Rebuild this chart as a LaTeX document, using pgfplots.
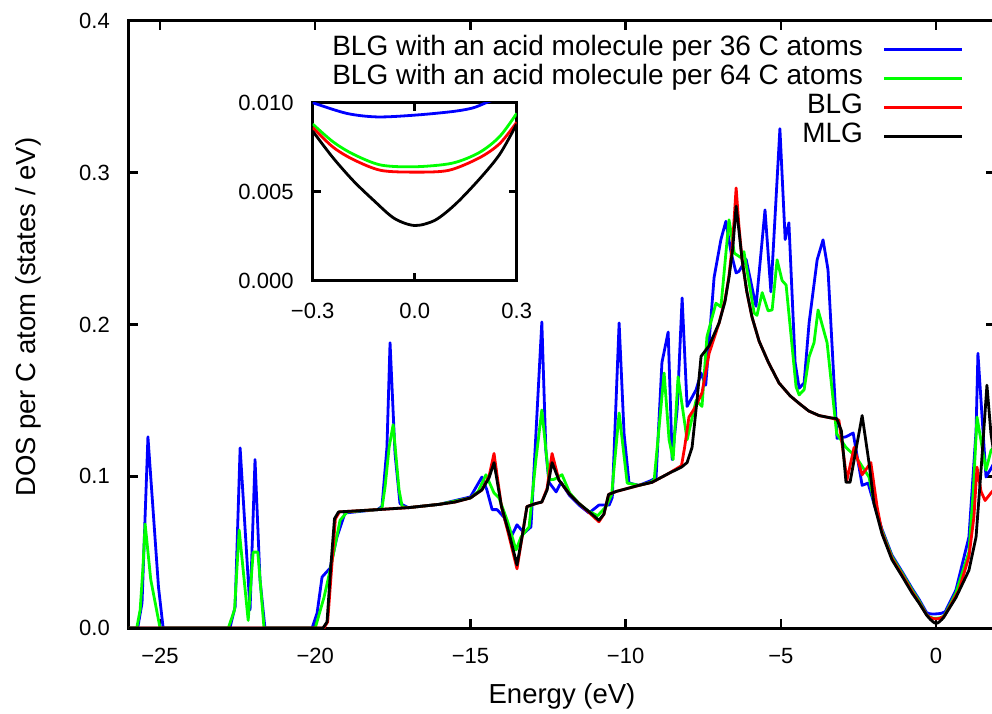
\documentclass[border=0pt]{standalone}
\usepackage{pgfplots}
\pgfplotsset{compat=1.18}
\usepackage{pgfplotstable}
\usepackage{fontspec}
\setmainfont{Liberation Sans}

\pgfplotstableread{
x y
-26 0
-19.75 0
-19.62 0.004
-19.5 0.04
-19.38 0.072
-19.25 0.0765
-18 0.078
-17 0.0793
-16 0.0815
-15.5 0.083
-15 0.0857
-14.63 0.091
-14.4 0.099
-14.24 0.109
-14.0 0.080
-13.75 0.062
-13.5 0.0415
-13.32 0.062
-13.18 0.080
-12.9 0.082
-12.7 0.083
-12.53 0.091
-12.37 0.109
-12.15 0.0975
-11.8 0.088
-11.5 0.082
-11.2 0.077
-10.86 0.071
-10.7 0.075
-10.55 0.088
-10.3 0.090
-9.57 0.094
-9.15 0.096
-8.6 0.102
-8.2 0.106
-8.02 0.109
-7.86 0.119
-7.7 0.150
-7.57 0.179
-7.31 0.186
-6.99 0.201
-6.8 0.215
-6.67 0.231
-6.55 0.250
-6.44 0.278
-6.35 0.262
-6.25 0.243
-6.1 0.222
-5.93 0.205
-5.7 0.189
-5.4 0.175
-5.06 0.1615
-4.7 0.153
-4.41 0.148
-4.1 0.143
-3.77 0.140
-3.4 0.1385
-3.2 0.138
-3.05 0.130
-2.9 0.096
-2.77 0.096
-2.38 0.140
-2.16 0.109
-2.0 0.082
-1.74 0.062
-1.42 0.045
-1.09 0.034
-0.77 0.023
-0.55 0.0165
-0.3 0.0084
-0.24 0.0069
-0.18 0.0056
-0.12 0.0045
-0.06 0.0035
0 0.0031
0.06 0.0034
0.12 0.0043
0.19 0.0057
0.25 0.0071
0.3 0.0088
0.64 0.020
1.06 0.038
1.29 0.060
1.45 0.104
1.64 0.160
1.77 0.128
1.9 0.110
}\mlg

\pgfplotstableread{
x y
-26 0
-19.72 0
-19.6 0.004
-19.47 0.04
-19.35 0.072
-19.22 0.0765
-18 0.078
-17 0.0793
-16 0.0815
-15.5 0.083
-15 0.0857
-14.63 0.091
-14.4 0.100
-14.24 0.115
-14.0 0.080
-13.75 0.060
-13.5 0.039
-13.32 0.062
-13.18 0.080
-12.9 0.082
-12.7 0.083
-12.53 0.092
-12.37 0.115
-12.15 0.0975
-11.8 0.088
-11.5 0.082
-11.2 0.0765
-10.86 0.070
-10.7 0.075
-10.55 0.088
-10.3 0.090
-9.57 0.094
-9.15 0.096
-8.6 0.102
-8.2 0.107
-8.1 0.119
-7.96 0.139
-7.74 0.146
-7.54 0.155
-7.31 0.181
-6.99 0.201
-6.8 0.216
-6.67 0.232
-6.55 0.255
-6.44 0.290
-6.35 0.265
-6.25 0.243
-6.1 0.222
-5.93 0.205
-5.7 0.189
-5.4 0.175
-5.06 0.1615
-4.7 0.153
-4.41 0.148
-4.1 0.143
-3.77 0.140
-3.4 0.1385
-3.13 0.137
-2.87 0.0975
-2.64 0.119
-2.38 0.101
-2.1 0.109
-1.9 0.080
-1.74 0.063
-1.42 0.046
-1.09 0.035
-0.77 0.024
-0.55 0.017
-0.3 0.0086
-0.24 0.0075
-0.18 0.0068
-0.1 0.0062
0 0.0061
0.1 0.0062
0.19 0.0069
0.25 0.0077
0.3 0.0089
0.74 0.025
1.06 0.047
1.22 0.073
1.32 0.106
1.45 0.090
1.58 0.084
1.77 0.089
1.9 0.092
}\blg

\pgfplotstableread{
x y
-26 0
-25.75 0
-25.64 0.012
-25.55 0.040
-25.48 0.0685
-25.3 0.032
-25.0 0
-22.8 0
-22.6 0.012
-22.45 0.0646
-22.16 0.005
-22.0 0.050
-21.85 0.050
-21.65 0
-20.0 0
-19.72 0.020
-19.52 0.038
-19.2 0.071
-18.97 0.0765
-18 0.078
-17.85 0.079
-17.75 0.093
-17.62 0.119
-17.49 0.134
-17.3 0.091
-17.2 0.080
-17 0.0793
-16 0.0815
-15 0.0857
-14.75 0.090
-14.5 0.101
-14.24 0.089
-14.08 0.0857
-13.8 0.070
-13.53 0.0514
-13.37 0.060
-13.11 0.0666
-12.89 0.111
-12.7 0.1437
-12.47 0.0976
-12.3 0.098
-12.05 0.101
-11.8 0.089
-11.5 0.082
-11.2 0.077
-10.9 0.074
-10.63 0.080
-10.45 0.088
-10.21 0.1417
-9.95 0.0955
-9.57 0.094
-9.2 0.096
-9.08 0.0976
-8.76 0.168
-8.6 0.124
-8.47 0.111
-8.31 0.1655
-8.02 0.124
-7.73 0.150
-7.54 0.146
-7.38 0.192
-7.09 0.214
-6.93 0.2116
-6.67 0.269
-6.5 0.247
-6.28 0.244
-6.19 0.248
-5.86 0.2076
-5.77 0.206
-5.6 0.221
-5.41 0.209
-5.28 0.2096
-5.12 0.2426
-4.96 0.229
-4.83 0.226
-4.51 0.159
-4.41 0.1536
-4.25 0.157
-4.09 0.1787
-3.93 0.188
-3.8 0.2096
-3.51 0.188
-3.2 0.128
-2.9 0.119
-2.58 0.1127
-2.3 0.104
-2.16 0.0995
-2.0 0.083
-1.74 0.064
-1.42 0.047
-1.09 0.036
-0.77 0.025
-0.55 0.018
-0.3 0.0088
-0.24 0.0078
-0.18 0.0071
-0.1 0.0065
0 0.0064
0.11 0.0066
0.19 0.0072
0.25 0.0081
0.3 0.0094
0.64 0.023
1.06 0.050
1.2 0.090
1.32 0.139
1.61 0.104
1.77 0.117
1.9 0.120
}\acidsixtyfour

\pgfplotstableread{
x y
-26 0
-25.72 0
-25.58 0.0165
-25.39 0.126
-25.05 0.027
-24.9 0
-22.75 0
-22.58 0.014
-22.42 0.1187
-22.1 0.012
-21.94 0.111
-21.78 0.032
-21.62 0
-20.1 0
-19.94 0.0099
-19.78 0.0336
-19.52 0.0395
-19.3 0.060
-19.04 0.0758
-18 0.078
-17.85 0.080
-17.69 0.119
-17.59 0.188
-17.43 0.115
-17.27 0.082
-17 0.0793
-16 0.0815
-15 0.0864
-14.63 0.0995
-14.47 0.091
-14.3 0.078
-14.14 0.078
-13.92 0.073
-13.69 0.060
-13.5 0.068
-13.27 0.0626
-13.05 0.0666
-12.89 0.128
-12.7 0.2017
-12.57 0.117
-12.47 0.096
-12.24 0.0897
-12.08 0.096
-11.82 0.0877
-11.5 0.081
-11.18 0.0758
-10.86 0.081
-10.53 0.081
-10.43 0.086
-10.21 0.201
-10.05 0.128
-9.89 0.0955
-9.57 0.094
-9.2 0.097
-9.02 0.099
-8.83 0.175
-8.63 0.195
-8.5 0.111
-8.34 0.144
-8.18 0.2175
-8.02 0.146
-7.73 0.157
-7.57 0.168
-7.42 0.160
-7.15 0.231
-6.93 0.256
-6.77 0.268
-6.6 0.247
-6.44 0.234
-6.35 0.235
-6.12 0.243
-5.8 0.212
-5.51 0.2755
-5.32 0.2215
-5.03 0.329
-4.86 0.256
-4.74 0.267
-4.54 0.175
-4.41 0.158
-4.25 0.1615
-4.09 0.201
-3.83 0.2426
-3.64 0.2558
-3.48 0.236
-3.19 0.125
-2.9 0.126
-2.67 0.1285
-2.38 0.094
-2.19 0.0955
-2.0 0.082
-1.74 0.065
-1.42 0.048
-1.09 0.037
-0.77 0.026
-0.55 0.019
-0.3 0.0100
-0.2 0.0094
-0.11 0.0092
0 0.0093
0.11 0.0095
0.17 0.0097
0.21 0.0100
0.26 0.0104
0.3 0.0109
0.64 0.025
1.06 0.060
1.29 0.130
1.35 0.181
1.61 0.0995
1.77 0.105
1.9 0.110
}\acidthirtysix

\begin{document}
\begin{tikzpicture}
\path[use as bounding box] (-129bp,-86bp) rectangle (863bp,628bp);
\begin{axis}[
  at={(0bp,0bp)}, anchor=south west,
  scale only axis, width=866bp, height=607bp,
  xmin=-26, xmax=1.9, ymin=0, ymax=0.4,
  xtick={-25,-20,-15,-10,-5,0},
  xticklabels={−25,−20,−15,−10,−5,0},
  ytick={0,0.1,0.2,0.3,0.4},
  yticklabels={0.0,0.1,0.2,0.3,0.4},
  tick pos=both, tick align=inside,
  major tick length=9bp,
  every tick/.style={black, line width=2.5bp},
  axis line style={line width=3bp},
  tick label style={font=\fontsize{22bp}{26bp}\selectfont, inner sep=0pt},
  xticklabel shift=20bp, yticklabel shift=19bp,
  xlabel={Energy (eV)},
  ylabel={DOS per C atom (states / eV)},
  label style={font=\fontsize{27.5bp}{32bp}\selectfont, inner sep=0pt},
  xlabel style={at={(axis description cs:0.5,-0.1252)}, anchor=base},
  ylabel style={at={(axis description cs:-0.1074,0.512)}, anchor=base, rotate=0},
  legend plot pos=right,
  legend cell align=right,
  legend image code/.code={\draw[#1] (0bp,0bp) -- (78bp,0bp);},
  legend style={draw=none, fill=none, at={(0.964,0.977)}, anchor=north east,
    inner sep=0pt, outer sep=0pt, row sep=0pt, column sep=20bp,
    font=\fontsize{28bp}{29bp}\selectfont,
    nodes={inner sep=0pt, text height=21bp, text depth=8bp}},
  every axis plot/.append style={line width=2.8bp, line join=round},
]
\addplot[color={rgb,255:red,0;green,0;blue,255}, no markers] table {\acidthirtysix};
\addlegendentry{BLG with an acid molecule per 36 C atoms}
\addplot[color={rgb,255:red,0;green,255;blue,0}, no markers] table {\acidsixtyfour};
\addlegendentry{BLG with an acid molecule per 64 C atoms}
\addplot[color={rgb,255:red,255;green,0;blue,0}, no markers] table {\blg};
\addlegendentry{BLG}
\addplot[color=black, no markers] table {\mlg};
\addlegendentry{MLG}
\end{axis}
\begin{axis}[
  at={(183.7bp,347.3bp)}, anchor=south west,
  scale only axis, width=204bp, height=178bp,
  xmin=-0.3, xmax=0.3, ymin=0, ymax=0.010,
  xtick={-0.3,0,0.3},
  xticklabels={−0.3,0.0,0.3},
  ytick={0,0.005,0.010},
  yticklabels={0.000,0.005,0.010},
  scaled y ticks=false, scaled x ticks=false,
  tick pos=both, tick align=inside,
  major tick length=8bp,
  every tick/.style={black, line width=2.5bp},
  axis line style={line width=3bp},
  axis background/.style={fill=white},
  tick label style={font=\fontsize{22bp}{26bp}\selectfont, inner sep=0pt},
  xticklabel shift=22bp, yticklabel shift=19bp,
  every axis plot/.append style={line width=2.8bp, line join=round},
]
\addplot[color={rgb,255:red,0;green,0;blue,255}, no markers, smooth, restrict x to domain=-0.31:0.31] table {\acidthirtysix};
\addplot[color={rgb,255:red,0;green,255;blue,0}, no markers, smooth, restrict x to domain=-0.31:0.31] table {\acidsixtyfour};
\addplot[color={rgb,255:red,255;green,0;blue,0}, no markers, smooth, restrict x to domain=-0.31:0.31] table {\blg};
\addplot[color=black, no markers, smooth, restrict x to domain=-0.31:0.31] table {\mlg};
\end{axis}
\end{tikzpicture}
\end{document}
